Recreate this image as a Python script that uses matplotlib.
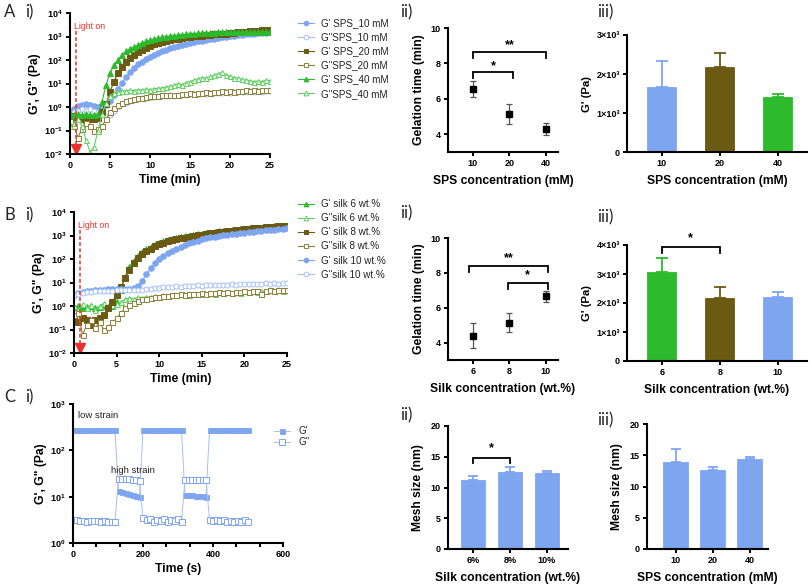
import matplotlib
matplotlib.use('Agg')
import matplotlib.pyplot as plt
from matplotlib.ticker import NullLocator, AutoMinorLocator

plt.rcParams['font.family'] = ['Liberation Sans', 'DejaVu Sans']
plt.rcParams['mathtext.fontset'] = 'custom'
plt.rcParams['mathtext.rm'] = 'Liberation Sans'
plt.rcParams['mathtext.bf'] = 'Liberation Sans:bold'
plt.rcParams['axes.linewidth'] = 1.5

# ---------------- DATA ----------------
time_min = [0, 0.5, 1, 1.5, 2, 2.5, 3, 3.5, 4, 4.5, 5, 5.5, 6, 6.5, 7, 7.5, 8, 8.5, 9, 9.5,
            10, 10.5, 11, 11.5, 12, 12.5, 13, 13.5, 14, 14.5, 15, 15.5, 16, 16.5, 17, 17.5,
            18, 18.5, 19, 19.5, 20, 20.5, 21, 21.5, 22, 22.5, 23, 23.5, 24, 24.5, 25]

# Panel A i) SPS series
a_gp_10 = [0.6, 0.8, 1.1, 1.2, 1.3, 1.2, 1.1, 1.0, 1.0, 1.2, 1.8, 3.2, 6, 11, 19, 30, 45, 65, 85, 110,
           140, 170, 205, 240, 275, 310, 350, 390, 430, 470, 520, 570, 620, 670, 720, 770,
           820, 870, 920, 970, 1020, 1070, 1120, 1170, 1220, 1270, 1320, 1370, 1420, 1460, 1500]
a_gpp_10 = [0.5, 0.6, 0.7, 0.8, 0.7, 0.8, 0.7, 0.6, 0.5, 0.4, 0.45, 0.7, 1.0, 1.3, 1.5, 1.8, 2.0, 2.1, 2.3, 2.4,
            2.5, 2.6, 2.8, 2.9, 3.0, 3.1, 3.0, 3.3, 3.2, 3.4, 3.5, 3.6, 3.4, 3.8, 3.6, 3.9,
            4.0, 3.8, 4.1, 4.3, 4.0, 4.4, 4.2, 4.5, 4.3, 4.6, 4.4, 4.8, 4.5, 4.7, 4.6]
a_gp_20 = [0.4, 0.35, 0.3, 0.3, 0.28, 0.3, 0.3, 0.35, 0.6, 1.4, 4.5, 12, 27, 50, 85, 125, 170, 220, 270, 330,
           400, 460, 520, 580, 640, 700, 760, 820, 870, 920, 970, 1020, 1060, 1100, 1140, 1180,
           1220, 1260, 1300, 1340, 1380, 1430, 1480, 1530, 1580, 1640, 1700, 1760, 1820, 1880, 1950]
a_gpp_20 = [0.25, 0.15, 0.05, 0.12, 0.2, 0.15, 0.1, 0.12, 0.15, 0.3, 0.6, 0.9, 1.2, 1.5, 1.8, 2.0, 2.2, 2.4, 2.5, 2.7,
            2.8, 2.9, 3.0, 3.1, 3.2, 3.1, 3.4, 3.3, 3.6, 3.5, 3.8, 3.6, 4.0, 3.8, 4.2, 4.0,
            4.4, 4.2, 4.6, 4.3, 4.8, 4.5, 5.0, 4.7, 5.2, 4.9, 5.4, 5.0, 5.5, 5.2, 5.4]
a_gp_40 = [0.5, 0.45, 0.5, 0.45, 0.5, 0.45, 0.45, 0.5, 1.7, 8.6, 27, 60, 100, 160, 230, 300, 370, 450, 530, 620,
           700, 780, 850, 920, 980, 1040, 1100, 1150, 1200, 1250, 1290, 1330, 1370, 1400, 1430, 1450,
           1470, 1490, 1500, 1510, 1520, 1520, 1530, 1530, 1530, 1540, 1540, 1540, 1550, 1550, 1550]
a_gpp_40 = [0.15, 0.2, 0.3, 0.15, 0.04, 0.012, 0.02, 0.1, 0.5, 1.5, 3.0, 4.0, 4.5, 4.8, 5.0, 5.2, 5.0, 5.5, 5.3, 5.8,
            5.5, 6.0, 6.2, 6.5, 7.0, 7.5, 8.5, 10, 9, 11, 12, 14, 16, 18, 17, 20,
            22, 26, 30, 24, 20, 18, 17, 15, 14, 13, 12, 13, 12, 14, 13]

# Panel B i) silk series
b_gp_6 = [0.9, 1.0, 0.8, 0.9, 1.0, 0.85, 0.9, 1.0, 0.9, 1.0, 1.5, 5, 18, 45, 85, 140, 200, 265, 330, 410,
          490, 560, 630, 700, 780, 850, 920, 990, 1060, 1130, 1200, 1270, 1340, 1410, 1480, 1550,
          1620, 1690, 1760, 1830, 1900, 1970, 2040, 2110, 2180, 2260, 2340, 2420, 2500, 2580, 2660]
b_gpp_6 = [1.0, 0.7, 1.2, 0.8, 1.1, 0.7, 1.0, 1.3, 0.9, 1.1, 1.2, 1.5, 2.0, 2.2, 2.0, 2.4, 2.2, 2.5, 2.3, 2.7,
           2.5, 2.8, 2.6, 3.0, 2.8, 3.2, 3.0, 2.8, 3.3, 3.1, 3.4, 3.2, 3.6, 3.4, 3.8, 3.5,
           3.9, 3.6, 4.0, 3.7, 4.2, 3.9, 4.3, 4.0, 4.4, 4.2, 4.6, 4.3, 4.7, 4.5, 4.8]
b_gp_8 = [0.35, 0.2, 0.3, 0.25, 0.15, 0.25, 0.3, 0.4, 0.8, 1.5, 3, 6.5, 15, 34, 65, 107, 160, 215, 275, 350,
          430, 500, 560, 625, 690, 750, 820, 885, 950, 1020, 1090, 1160, 1240, 1310, 1390, 1470,
          1550, 1620, 1690, 1760, 1830, 1910, 1990, 2070, 2150, 2230, 2300, 2380, 2450, 2520, 2600]
b_gpp_8 = [0.4, 0.5, 0.06, 0.15, 0.25, 0.12, 0.2, 0.1, 0.13, 0.2, 0.3, 0.5, 0.8, 1.1, 1.4, 1.6, 1.9, 2.0, 2.2, 2.3,
           2.5, 2.6, 2.7, 2.9, 3.0, 3.1, 3.0, 3.3, 3.2, 3.4, 3.5, 3.3, 3.6, 3.5, 3.8, 3.6,
           3.9, 3.7, 4.0, 4.1, 4.2, 4.0, 4.3, 4.4, 3.2, 4.5, 4.6, 4.5, 4.7, 4.8, 4.9]
b_gp_10 = [3.0, 3.5, 3.9, 4.2, 4.5, 4.7, 4.9, 5.0, 5.1, 5.2, 5.3, 5.3, 5.4, 5.5, 5.8, 7, 12, 22, 40, 65,
           100, 140, 180, 225, 270, 330, 400, 470, 540, 610, 700, 760, 830, 890, 950, 1010,
           1080, 1140, 1200, 1260, 1320, 1380, 1440, 1500, 1570, 1640, 1720, 1800, 1880, 1960, 2050]
b_gpp_10 = [3.0, 3.3, 3.6, 3.9, 4.0, 4.2, 4.3, 4.4, 4.5, 4.5, 4.6, 4.6, 4.7, 4.8, 4.9, 5.0, 5.0, 5.3, 5.5, 5.8,
            6.0, 6.2, 6.4, 6.5, 6.8, 6.6, 7.0, 7.2, 7.0, 7.5, 7.3, 7.8, 7.5, 8.0, 7.8, 8.2,
            8.0, 8.5, 8.2, 8.7, 8.4, 8.8, 8.5, 9.0, 8.7, 9.2, 8.9, 9.4, 9.0, 9.6, 9.2]

light_on_min = 0.75

# Panel ii / iii data
sps_labels = ['10', '20', '40']
sps_gel_time = [6.55, 5.15, 4.3]
sps_gel_err = [0.45, 0.55, 0.32]
sps_modulus = [1655, 2170, 1415]
sps_modulus_err = [675, 375, 85]

silk_labels = ['6', '8', '10']
silk_gel_time = [4.4, 5.15, 6.65]
silk_gel_err = [0.7, 0.55, 0.33]
silk_modulus = [3055, 2180, 2215]
silk_modulus_err = [485, 355, 170]

# Panel C i) strain sweep
c_time_s = [0, 10, 20, 30, 40, 50, 60, 70, 80, 90, 100, 110, 120,
            130, 140, 150, 160, 170, 180, 190,
            200, 210, 220, 230, 240, 250, 260, 270, 280, 290, 300, 310,
            320, 330, 340, 350, 360, 370, 380,
            390, 400, 410, 420, 430, 440, 450, 460, 470, 480, 490, 500]
c_gp = [270, 270, 270, 270, 270, 270, 270, 270, 270, 270, 270, 270, 270,
        13, 12.5, 12, 11.5, 11, 10.5, 10,
        270, 270, 270, 270, 270, 270, 270, 270, 270, 270, 270, 270,
        11, 10.8, 10.6, 10.4, 10.2, 10.1, 10,
        270, 270, 270, 270, 270, 270, 270, 270, 270, 270, 270, 270]
c_gpp = [3.1, 3.1, 3.0, 3.0, 2.9, 3.0, 2.95, 3.0, 2.9, 2.95, 2.9, 2.9, 2.9,
         24.5, 24.5, 24, 24, 23, 22.5, 21.5,
         3.5, 3.1, 3.3, 2.9, 3.2, 3.0, 3.3, 2.8, 3.1, 3.0, 3.3, 2.9,
         23, 23, 23, 23, 23, 23, 23,
         3.2, 3.0, 3.1, 3.0, 3.1, 2.9, 3.0, 2.8, 3.0, 2.8, 3.1, 2.9]

mesh_silk_labels = ['6%', '8%', '10%']
mesh_silk = [11.2, 12.6, 12.4]
mesh_silk_err = [0.7, 0.7, 0.3]
mesh_sps_labels = ['10', '20', '40']
mesh_sps = [14.0, 12.6, 14.4]
mesh_sps_err = [2.0, 0.6, 0.25]

# ---------------- STYLE ----------------
BLUE = '#7ea6f0'
BROWN = '#6b5a12'
GREEN = '#2dbb2d'
BLUE_L = '#a3c0f5'
BROWN_L = '#8f7f35'
GREEN_L = '#5fcf5f'
RED = '#e8312c'

W, H = 810, 588
fig = plt.figure(figsize=(W / 100, H / 100), dpi=100)

TICK_FS = 6.5
LAB_FS = 8.7


def axpx(l, t, r, b):
    ax = fig.add_axes([l / W, 1 - b / H, (r - l) / W, (b - t) / H])
    ax.spines['top'].set_visible(False)
    ax.spines['right'].set_visible(False)
    ax.tick_params(width=1.4, length=3.2, pad=2, labelsize=TICK_FS)
    return ax


def bold_ticks(ax, axis, ticks, labels):
    if axis == 'x':
        ax.set_xticks(ticks, labels, fontweight='bold', fontsize=TICK_FS)
    else:
        ax.set_yticks(ticks, labels, fontweight='bold', fontsize=TICK_FS)


def log_labels(exps):
    return [r'$\mathbf{10^{%d}}$' % e for e in exps]


def rheo_panel(ax, series, labels, styles, legend_anchor):
    handles = []
    for ys, lab, (col, mk, filled) in zip(series, labels, styles):
        h, = ax.plot(time_min, ys, color=col, lw=0.8, marker=mk, ms=4.0 if filled else 3.6, mew=0.7,
                     mfc=col if filled else 'white', mec=col, label=lab)
        handles.append(h)
    ax.set_yscale('log')
    ax.set_ylim(1e-2, 1e4)
    ax.set_xlim(0, 25)
    exps = [-2, -1, 0, 1, 2, 3, 4]
    bold_ticks(ax, 'y', [10.0 ** e for e in exps], log_labels(exps))
    ax.yaxis.set_minor_locator(NullLocator())
    bold_ticks(ax, 'x', [0, 5, 10, 15, 20, 25], ['0', '5', '10', '15', '20', '25'])
    ax.set_xlabel('Time (min)', fontweight='bold', fontsize=LAB_FS, labelpad=3)
    ax.set_ylabel('G\', G" (Pa)', fontweight='bold', fontsize=LAB_FS, labelpad=2)
    # light on marker
    ax.plot([light_on_min, light_on_min], [10 ** 3.25, 10 ** -1.75], color=RED, lw=1.1, ls=(0, (2.5, 1.5)))
    ax.plot([light_on_min], [10 ** -1.78], marker='v', color=RED, ms=6.5, clip_on=False)
    ax.text(light_on_min - 0.25, 10 ** 3.42, 'Light on', color=RED, fontsize=6.3, va='center', ha='left')
    leg = ax.legend(handles=handles, loc='upper left', bbox_to_anchor=legend_anchor,
                    bbox_transform=fig.transFigure, frameon=False, fontsize=7.1,
                    handlelength=1.6, handletextpad=0.7, labelspacing=0.42,
                    borderpad=0, borderaxespad=0, labelcolor='#222222')
    for lh in leg.legend_handles:
        lh.set_markersize(3.4)


def gel_panel(ax, labels, vals, errs, xlabel):
    pos = list(range(len(labels)))
    ax.errorbar(pos, vals, yerr=errs, fmt='s', color='black', ecolor='#555555', ms=4.5,
                capsize=2.3, elinewidth=0.9, capthick=0.9)
    ax.set_xlim(-0.68, 2.33)
    ax.set_ylim(3, 10)
    bold_ticks(ax, 'y', [4, 6, 8, 10], ['4', '6', '8', '10'])
    bold_ticks(ax, 'x', pos, labels)
    ax.set_xlabel(xlabel, fontweight='bold', fontsize=LAB_FS, labelpad=5)
    ax.set_ylabel('Gelation time (min)', fontweight='bold', fontsize=LAB_FS, labelpad=4)


def bracket(ax, x1, x2, y, drop, text, text_y):
    ax.plot([x1, x1, x2, x2], [y - drop, y, y, y - drop], color='black', lw=1.3,
            clip_on=False, solid_joinstyle='miter')
    ax.text((x1 + x2) / 2, text_y, text, ha='center', va='center', fontsize=9,
            fontweight='bold', clip_on=False)


def bar_panel(ax, labels, vals, errs, colors, width, capsize):
    pos = list(range(len(labels)))
    ax.bar(pos, vals, width=width, color=colors, edgecolor=[c for c in colors], lw=0.6, zorder=2)
    for p, v, e, c in zip(pos, vals, errs, colors):
        ax.errorbar([p], [v], yerr=[[0], [e]], fmt='none', ecolor=c, capsize=capsize,
                    elinewidth=1.3, capthick=1.3, zorder=1)
    bold_ticks(ax, 'x', pos, labels)


def panel_label(x, y, s):
    fig.text(x / W, 1 - y / H, s, fontsize=12, family=['Lato', 'DejaVu Sans'],
             va='center', ha='left', color='#222222')


# ---------------- ROW A ----------------
axAi = axpx(70, 13, 270, 154)
rheo_panel(axAi, [a_gp_10, a_gpp_10, a_gp_20, a_gpp_20, a_gp_40, a_gpp_40],
           ["G' SPS_10 mM", 'G"SPS_10 mM', "G' SPS_20 mM", 'G"SPS_20 mM',
            "G' SPS_40 mM", 'G"SPS_40 mM'],
           [(BLUE, 'o', True), (BLUE_L, 'o', False), (BROWN, 's', True), (BROWN_L, 's', False),
            (GREEN, '^', True), (GREEN_L, '^', False)],
           (298 / W, 1 - 18 / H))

axAii = axpx(448, 28, 558, 152)
gel_panel(axAii, sps_labels, sps_gel_time, sps_gel_err, 'SPS concentration (mM)')
bracket(axAii, 0, 2, 8.62, 0.3, '**', 9.05)
bracket(axAii, 0, 1.1, 7.52, 0.35, '*', 7.85)

axAiii = axpx(627, 35, 807, 152)
bar_panel(axAiii, sps_labels, sps_modulus, sps_modulus_err, [BLUE, BROWN, GREEN], 0.5, 4.5)
axAiii.set_xlim(-0.6, 2.5)
axAiii.set_ylim(0, 3000)
bold_ticks(axAiii, 'y', [0, 1000, 2000, 3000], ['0', '1×10³', '2×10³', '3×10³'])
axAiii.set_xlabel('SPS concentration (mM)', fontweight='bold', fontsize=LAB_FS, labelpad=5)
axAiii.set_ylabel("G' (Pa)", fontweight='bold', fontsize=LAB_FS - 0.5, labelpad=3)

# ---------------- ROW B ----------------
axBi = axpx(74, 212, 287, 353)
rheo_panel(axBi, [b_gp_6, b_gpp_6, b_gp_8, b_gpp_8, b_gp_10, b_gpp_10],
           ["G' silk 6 wt.%", 'G"silk 6 wt.%', "G' silk 8 wt.%", 'G"silk 8 wt.%',
            "G' silk 10 wt.%", 'G"silk 10 wt.%'],
           [(GREEN, '^', True), (GREEN_L, '^', False), (BROWN, 's', True), (BROWN_L, 's', False),
            (BLUE, 'o', True), (BLUE_L, 'o', False)],
           (298 / W, 1 - 199 / H))

axBii = axpx(448, 238, 558, 360)
gel_panel(axBii, silk_labels, silk_gel_time, silk_gel_err, 'Silk concentration (wt.%)')
bracket(axBii, -0.1, 2.05, 8.38, 0.32, '**', 8.85)
bracket(axBii, 0.95, 2.05, 7.4, 0.35, '*', 7.85)

axBiii = axpx(627, 245, 807, 361)
bar_panel(axBiii, silk_labels, silk_modulus, silk_modulus_err, [GREEN, BROWN, BLUE], 0.5, 4.5)
axBiii.set_xlim(-0.6, 2.5)
axBiii.set_ylim(0, 4000)
bold_ticks(axBiii, 'y', [0, 1000, 2000, 3000, 4000], ['0', '1×10³', '2×10³', '3×10³', '4×10³'])
axBiii.set_xlabel('Silk concentration (wt.%)', fontweight='bold', fontsize=LAB_FS, labelpad=5)
axBiii.set_ylabel("G' (Pa)", fontweight='bold', fontsize=LAB_FS - 0.5, labelpad=3)
bracket(axBiii, 0, 1, 3920, 200, '*', 4230)

# ---------------- ROW C ----------------
axCi = axpx(73, 404, 283, 543)
axCi.plot(c_time_s, c_gp, color=BLUE_L, lw=0.7, marker='s', ms=3.6, mfc=BLUE, mec=BLUE, mew=0.6, label="G'")
axCi.plot(c_time_s, c_gpp, color=BLUE_L, lw=0.7, marker='s', ms=3.8, mfc='white', mec=BLUE, mew=0.7, label='G"')
axCi.set_yscale('log')
axCi.set_ylim(1, 1000)
axCi.set_xlim(0, 600)
bold_ticks(axCi, 'y', [1, 10, 100, 1000], log_labels([0, 1, 2, 3]))
axCi.yaxis.set_minor_locator(NullLocator())
bold_ticks(axCi, 'x', [0, 200, 400, 600], ['0', '200', '400', '600'])
axCi.xaxis.set_minor_locator(AutoMinorLocator(3))
axCi.tick_params(which='minor', width=1.4, length=3.2)
axCi.set_xlabel('Time (s)', fontweight='bold', fontsize=LAB_FS, labelpad=3)
axCi.set_ylabel('G\', G" (Pa)', fontweight='bold', fontsize=LAB_FS, labelpad=2)
axCi.text(14, 560, 'low strain', fontsize=6.8, va='center', ha='left', color='#222222')
axCi.text(108, 37, 'high strain', fontsize=6.8, va='center', ha='left', color='#222222')
axCi.legend(loc='upper left', bbox_to_anchor=(274 / W, 1 - 426 / H), bbox_transform=fig.transFigure,
            frameon=False, fontsize=7, handlelength=1.6, handletextpad=0.9, labelspacing=0.15,
            borderpad=0, borderaxespad=0, labelcolor='#222222')

axCii = axpx(448, 426, 568, 549)
bar_panel(axCii, mesh_silk_labels, mesh_silk, mesh_silk_err, [BLUE, BLUE, BLUE], 0.65, 3.6)
axCii.set_xlim(-0.68, 2.57)
axCii.set_ylim(0, 20)
bold_ticks(axCii, 'y', [0, 5, 10, 15, 20], ['0', '5', '10', '15', '20'])
axCii.set_xlabel('Silk concentration (wt.%)', fontweight='bold', fontsize=LAB_FS, labelpad=5)
axCii.set_ylabel('Mesh size (nm)', fontweight='bold', fontsize=LAB_FS, labelpad=5)
bracket(axCii, 0, 1, 14.85, 0.9, '*', 16.4)

axCiii = axpx(647, 424, 768, 549)
bar_panel(axCiii, mesh_sps_labels, mesh_sps, mesh_sps_err, [BLUE, BLUE, BLUE], 0.68, 3.6)
axCiii.set_xlim(-0.78, 2.49)
axCiii.set_ylim(0, 20)
bold_ticks(axCiii, 'y', [0, 5, 10, 15, 20], ['0', '5', '10', '15', '20'])
axCiii.set_xlabel('SPS concentration (mM)', fontweight='bold', fontsize=LAB_FS, labelpad=5)
axCiii.set_ylabel('Mesh size (nm)', fontweight='bold', fontsize=LAB_FS, labelpad=5)

# ---------------- PANEL LABELS ----------------
panel_label(4, 12, 'A')
panel_label(25, 12, 'i)')
panel_label(400, 12, 'ii)')
panel_label(597, 12, 'iii)')
panel_label(4, 215, 'B')
panel_label(25, 215, 'i)')
panel_label(400, 213, 'ii)')
panel_label(597, 217, 'iii)')
panel_label(4, 397, 'C')
panel_label(25, 397, 'i)')
panel_label(400, 415, 'ii)')
panel_label(597, 420, 'iii)')

fig.savefig('out.png', dpi=100)
